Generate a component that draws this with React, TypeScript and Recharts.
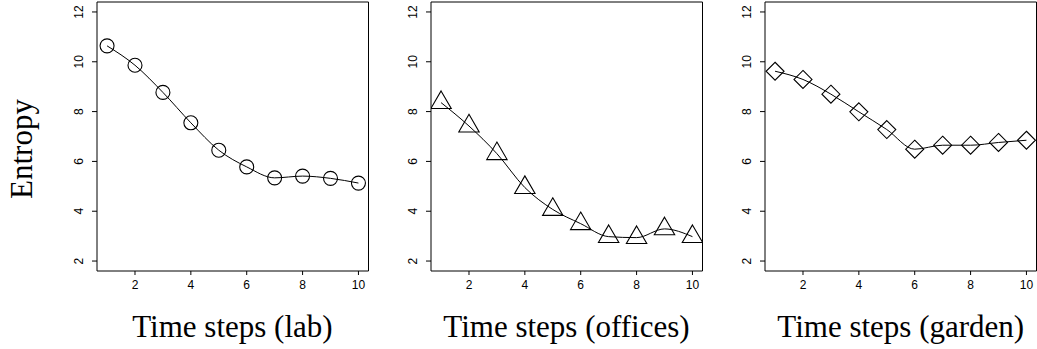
import React from "react";
import { LineChart, Line, XAxis, YAxis, ReferenceArea } from "recharts";

// entropy per time step
const steps = [1, 2, 3, 4, 5, 6, 7, 8, 9, 10];
const labEntropy = [10.64, 9.86, 8.77, 7.55, 6.45, 5.78, 5.34, 5.41, 5.32, 5.13];
const officesEntropy = [8.36, 7.42, 6.31, 4.95, 4.07, 3.5, 2.98, 2.94, 3.29, 2.98];
const gardenEntropy = [9.62, 9.29, 8.7, 7.99, 7.28, 6.49, 6.65, 6.65, 6.76, 6.85];

const xTicks = [2, 4, 6, 8, 10];
const yTicks = [2, 4, 6, 8, 10, 12];
const panelTitles = ["Time steps (lab)", "Time steps (offices)", "Time steps (garden)"];
const yTitle = "Entropy";

// R-style 4% padded ranges
const X_DOMAIN: [number, number] = [0.64, 10.36];
const Y_DOMAIN: [number, number] = [1.6, 12.4];

const YW = 40; // y axis strip
const TOP = 2;
const PH = 269;
const PW = 271.5;
const XH = 30;
const RM = 4;
const PLOT_LEFTS = [96.7, 430.7, 765];

const SANS = "'Liberation Sans', Arial, Helvetica, sans-serif";
const SERIF = "'Liberation Serif', 'Times New Roman', serif";

type Shape = "circle" | "triangle" | "diamond";

const renderMarker = (shape: Shape) => (props: any) => {
    const { cx, cy, index } = props;
    if (cx == null || cy == null) return <g key={`m-${index}`} />;
    const common = { fill: "none", stroke: "#000", strokeWidth: 1.1 };
    if (shape === "circle") {
        return <circle key={`m-${index}`} cx={cx} cy={cy} r={7} {...common} />;
    }
    if (shape === "triangle") {
        const pts = `${cx},${cy - 11.7} ${cx + 10.2},${cy + 5.9} ${cx - 10.2},${cy + 5.9}`;
        return <polygon key={`m-${index}`} points={pts} {...common} />;
    }
    const d = 9;
    const pts = `${cx},${cy - d} ${cx + d},${cy} ${cx},${cy + d} ${cx - d},${cy}`;
    return <polygon key={`m-${index}`} points={pts} {...common} />;
};

const XTick = (props: any) => {
    const { x, payload } = props;
    return (
        <text x={x} y={TOP + PH + 17.5} textAnchor="middle" fontFamily={SANS} fontSize={12} fill="#000">
            {payload.value}
        </text>
    );
};

const YTick = (props: any) => {
    const { y, payload } = props;
    const cx = YW - 18;
    return (
        <text
            x={cx}
            y={y}
            dy="0.35em"
            textAnchor="middle"
            transform={`rotate(-90 ${cx} ${y})`}
            fontFamily={SANS}
            fontSize={12}
            fill="#000"
        >
            {payload.value}
        </text>
    );
};

interface PanelProps {
    values: number[];
    shape: Shape;
    left: number;
}

const Panel: React.FC<PanelProps> = ({ values, shape, left }) => {
    const data = steps.map((t, i) => ({ t, v: values[i] }));
    return (
        <div style={{ position: "absolute", left: left - YW, top: 0 }}>
            <LineChart
                width={YW + PW + RM}
                height={TOP + PH + XH}
                data={data}
                margin={{ top: TOP, right: RM, bottom: 0, left: 0 }}
            >
                <XAxis
                    dataKey="t"
                    type="number"
                    domain={X_DOMAIN}
                    ticks={xTicks}
                    interval={0}
                    allowDataOverflow
                    axisLine={false}
                    stroke="#000"
                    tickSize={4}
                    height={XH}
                    tick={XTick}
                />
                <YAxis
                    type="number"
                    domain={Y_DOMAIN}
                    ticks={yTicks}
                    interval={0}
                    allowDataOverflow
                    axisLine={false}
                    stroke="#000"
                    tickSize={5}
                    width={YW}
                    tick={YTick}
                />
                <ReferenceArea
                    x1={X_DOMAIN[0]}
                    x2={X_DOMAIN[1]}
                    y1={Y_DOMAIN[0]}
                    y2={Y_DOMAIN[1]}
                    fill="none"
                    stroke="#000"
                    strokeWidth={1}
                    ifOverflow="visible"
                />
                <Line
                    dataKey="v"
                    type="monotone"
                    stroke="#000"
                    strokeWidth={1}
                    dot={renderMarker(shape)}
                    activeDot={false}
                    isAnimationActive={false}
                />
            </LineChart>
        </div>
    );
};

const series: { values: number[]; shape: Shape }[] = [
    { values: labEntropy, shape: "circle" },
    { values: officesEntropy, shape: "triangle" },
    { values: gardenEntropy, shape: "diamond" },
];

export default function App() {
    return (
        <div
            style={{
                position: "absolute",
                left: 0,
                top: 0,
                width: 1037,
                height: 349,
                overflow: "hidden",
                background: "#fff",
            }}
        >
            {series.map((s, i) => (
                <Panel key={i} values={s.values} shape={s.shape} left={PLOT_LEFTS[i]} />
            ))}
            <svg
                width={1037}
                height={349}
                style={{ position: "absolute", left: 0, top: 0, pointerEvents: "none" }}
            >
                <text
                    x={31.5}
                    y={149}
                    textAnchor="middle"
                    transform="rotate(-90 31.5 149)"
                    fontFamily={SERIF}
                    fontSize={31}
                    fill="#000"
                >
                    {yTitle}
                </text>
                {panelTitles.map((t, i) => (
                    <text
                        key={t}
                        x={PLOT_LEFTS[i] + PW / 2}
                        y={336.5}
                        textAnchor="middle"
                        fontFamily={SERIF}
                        fontSize={31}
                        fill="#000"
                    >
                        {t}
                    </text>
                ))}
            </svg>
        </div>
    );
}
